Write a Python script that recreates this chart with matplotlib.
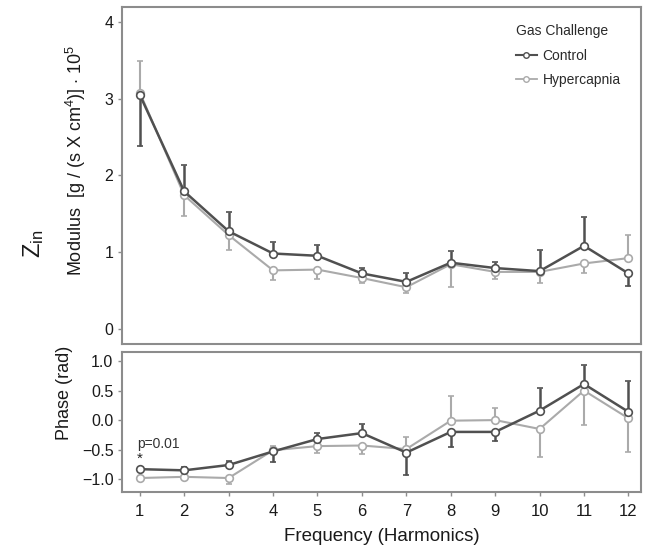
import matplotlib
matplotlib.use("Agg")
import matplotlib.pyplot as plt
from matplotlib.lines import Line2D
import numpy as np

plt.rcParams['font.family'] = ['Liberation Sans', 'DejaVu Sans']
plt.rcParams['mathtext.fontset'] = 'custom'
plt.rcParams['mathtext.rm'] = 'Liberation Sans'
plt.rcParams['mathtext.it'] = 'Liberation Sans'

harmonics = [1, 2, 3, 4, 5, 6, 7, 8, 9, 10, 11, 12]
x_ticklabels = [str(h) for h in harmonics]

control_mod = [3.05, 1.79, 1.27, 0.98, 0.95, 0.72, 0.61, 0.86, 0.79, 0.75, 1.08, 0.72]
control_mod_bar = [2.38, 2.13, 1.52, 1.13, 1.09, 0.79, 0.73, 1.01, 0.87, 1.03, 1.45, 0.56]
hyper_mod = [3.08, 1.74, 1.22, 0.76, 0.77, 0.66, 0.54, 0.84, 0.74, 0.74, 0.85, 0.92]
hyper_mod_bar = [3.49, 1.47, 1.02, 0.63, 0.65, 0.60, 0.46, 0.54, 0.65, 0.60, 0.72, 1.22]

control_phase = [-0.83, -0.85, -0.76, -0.53, -0.32, -0.22, -0.55, -0.20, -0.20, 0.16, 0.61, 0.14]
control_phase_bar = [-0.81, -0.80, -0.69, -0.71, -0.22, -0.07, -0.93, -0.45, -0.36, 0.55, 0.94, 0.66]
hyper_phase = [-0.98, -0.96, -0.98, -0.51, -0.44, -0.43, -0.49, -0.01, 0.00, -0.15, 0.50, 0.03]
hyper_phase_bar = [-0.99, -0.99, -1.08, -0.43, -0.55, -0.57, -0.29, 0.40, 0.21, -0.62, -0.08, -0.54]

mod_yticks = [0, 1, 2, 3, 4]
phase_yticks = [-1.0, -0.5, 0.0, 0.5, 1.0]

DARK = '#505050'
LIGHT = '#aaaaaa'
SPINE = '#8c8c8c'
TXT = '#1a1a1a'


def one_sided(vals, ends):
    v = np.array(vals)
    e = np.array(ends) - v
    return np.vstack([np.clip(-e, 0, None), np.clip(e, 0, None)])


fig = plt.figure(figsize=(6.48, 5.53), dpi=100)
ax1 = fig.add_axes([0.189, 0.378, 0.800, 0.610])
ax2 = fig.add_axes([0.189, 0.111, 0.800, 0.253])


def draw(ax, yv, yb, color, lw):
    ax.errorbar(harmonics, yv, yerr=one_sided(yv, yb), color=color, lw=lw,
                elinewidth=lw, capsize=2, capthick=lw, marker='o', ms=5.5,
                mfc='white', mec=color, mew=1.2, zorder=3)


draw(ax1, hyper_mod, hyper_mod_bar, LIGHT, 1.5)
draw(ax1, control_mod, control_mod_bar, DARK, 1.8)
draw(ax2, hyper_phase, hyper_phase_bar, LIGHT, 1.5)
draw(ax2, control_phase, control_phase_bar, DARK, 1.8)

for ax in (ax1, ax2):
    ax.set_xlim(0.61, 12.28)
    for s in ax.spines.values():
        s.set_color(SPINE)
        s.set_linewidth(1.5)
    ax.tick_params(colors=SPINE, labelcolor=TXT, labelsize=11.5, length=3, width=1)

ax1.set_ylim(-0.2, 4.2)
ax1.set_yticks(mod_yticks)
ax1.set_xticks([])
ax2.set_ylim(-1.21, 1.157)
ax2.set_yticks(phase_yticks)
ax2.set_yticklabels([f'{t:.1f}'.replace('-', '\u2212') for t in phase_yticks])
ax2.set_xticks(harmonics)
ax2.set_xticklabels(x_ticklabels)
ax2.tick_params(axis='x', labelsize=12, pad=6)

handles = [Line2D([], [], color=DARK, lw=1.5, marker='o', ms=4, mfc='white', mec=DARK),
           Line2D([], [], color=LIGHT, lw=1.3, marker='o', ms=4, mfc='white', mec=LIGHT)]
leg = ax1.legend(handles, ['Control', 'Hypercapnia'], title='Gas Challenge', loc='upper right',
                 bbox_to_anchor=(0.985, 0.985), frameon=False, fontsize=10,
                 title_fontsize=10, handlelength=1.5, handletextpad=0.4,
                 labelspacing=0.75)
leg._legend_box.align = 'left'
leg.get_title().set_color('#2a2a2a')
for t in leg.get_texts():
    t.set_color('#2a2a2a')

fig.text(0.117, 0.71, r'Modulus  [g / (s X cm$^{4}$)] $\cdot$ 10$^{5}$', rotation=90,
         ha='center', va='center', fontsize=13, color=TXT)
fig.text(0.052, 0.56, r'Z$_{\mathrm{in}}$', rotation=90, ha='center', va='center',
         fontsize=17, color=TXT)
fig.text(0.10, 0.29, 'Phase (rad)', rotation=90, ha='center', va='center',
         fontsize=13, color=TXT)
fig.text(0.589, 0.03, 'Frequency (Harmonics)', ha='center', va='center',
         fontsize=13.5, color=TXT)

ax2.text(0.95, -0.41, 'p=0.01', fontsize=10, color='#333333', ha='left', va='center')
ax2.text(1.0, -0.66, '*', fontsize=11, color='#222222', ha='center', va='center')

fig.savefig('out.png', dpi=100)
